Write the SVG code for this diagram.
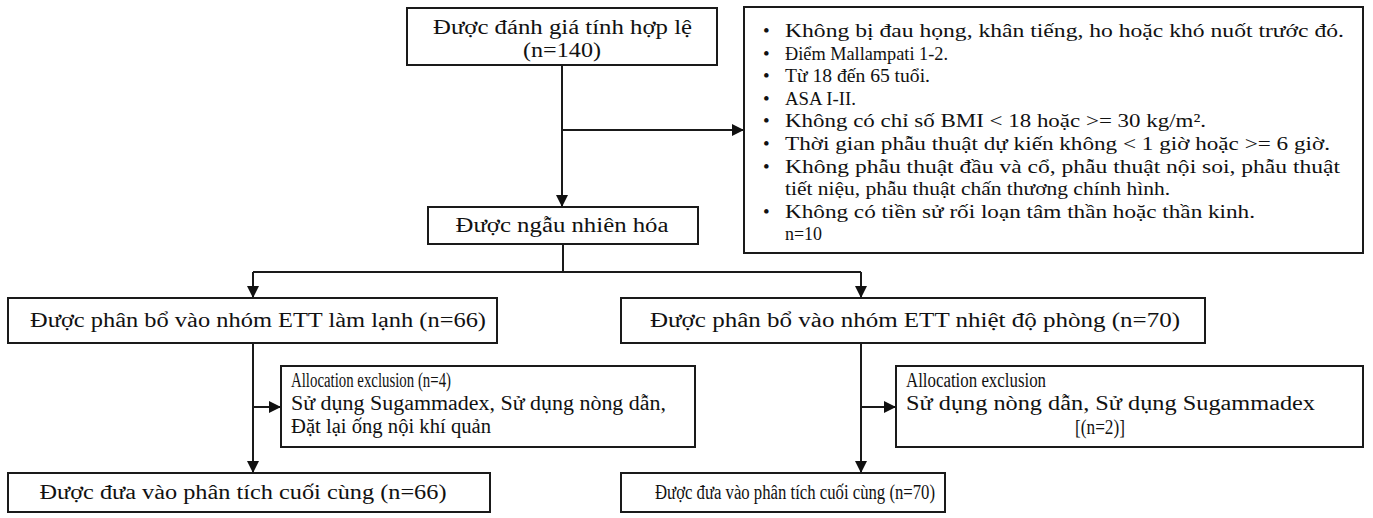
<svg xmlns="http://www.w3.org/2000/svg" width="1373" height="518" viewBox="0 0 1373 518">
<defs>
<style>
.box{fill:#fff;stroke:#1a1a1a;stroke-width:2}
.t{font-family:"Liberation Serif","Times New Roman",serif;font-size:20px;fill:#111}
.c{text-anchor:middle}
.s{font-size:19px}
.ln{fill:none;stroke:#1a1a1a;stroke-width:2}
</style>
<marker id="ah" markerUnits="userSpaceOnUse" markerWidth="14" markerHeight="12" refX="12" refY="6" orient="auto">
<path d="M0,0 L12,6 L0,12 Z" fill="#111"/>
</marker>
</defs>
<rect width="1373" height="518" fill="#fff"/>

<g id="connectors">
<path class="ln" d="M562,65 V207" marker-end="url(#ah)"/>
<path class="ln" d="M562,130 H744" marker-end="url(#ah)"/>
<path class="ln" d="M563,244 V272 M253,272 H861"/>
<path class="ln" d="M253,272 V298" marker-end="url(#ah)"/>
<path class="ln" d="M861,272 V298" marker-end="url(#ah)"/>
<path class="ln" d="M253,343 V473" marker-end="url(#ah)"/>
<path class="ln" d="M253,407 H281" marker-end="url(#ah)"/>
<path class="ln" d="M861,343 V473" marker-end="url(#ah)"/>
<path class="ln" d="M861,407 H896" marker-end="url(#ah)"/>
</g>

<g id="eligibility" class="t">
<rect class="box" x="407" y="8" width="310" height="57"/>
<text class="c" x="562.5" y="34" textLength="259" lengthAdjust="spacingAndGlyphs">Được đánh giá tính hợp lệ</text>
<text class="c" x="562" y="57" textLength="78" lengthAdjust="spacingAndGlyphs">(n=140)</text>
</g>

<g id="exclusion-criteria" class="t s">
<rect class="box" x="744" y="7" width="619" height="246"/>
<text x="763" y="37">•</text><text x="785" y="37" textLength="559" lengthAdjust="spacingAndGlyphs">Không bị đau họng, khân tiếng, ho hoặc khó nuốt trước đó.</text>
<text x="763" y="59.5">•</text><text x="785" y="59.5" textLength="163" lengthAdjust="spacingAndGlyphs">Điểm Mallampati 1-2.</text>
<text x="763" y="82">•</text><text x="785" y="82" textLength="145" lengthAdjust="spacingAndGlyphs">Từ 18 đến 65 tuổi.</text>
<text x="763" y="104.5">•</text><text x="785" y="104.5" textLength="71" lengthAdjust="spacingAndGlyphs">ASA I-II.</text>
<text x="763" y="127">•</text><text x="785" y="127" textLength="421" lengthAdjust="spacingAndGlyphs">Không có chỉ số BMI &lt; 18 hoặc &gt;= 30 kg/m².</text>
<text x="763" y="150">•</text><text x="785" y="150" textLength="545" lengthAdjust="spacingAndGlyphs">Thời gian phẫu thuật dự kiến không &lt; 1 giờ hoặc &gt;= 6 giờ.</text>
<text x="763" y="172.5">•</text><text x="785" y="172.5" textLength="555" lengthAdjust="spacingAndGlyphs">Không phẫu thuật đầu và cổ, phẫu thuật nội soi, phẫu thuật</text>
<text x="785" y="195" textLength="385" lengthAdjust="spacingAndGlyphs">tiết niệu, phẫu thuật chấn thương chính hình.</text>
<text x="763" y="217.5">•</text><text x="785" y="217.5" textLength="470" lengthAdjust="spacingAndGlyphs">Không có tiền sử rối loạn tâm thần hoặc thần kinh.</text>
<text x="785" y="240" textLength="37" lengthAdjust="spacingAndGlyphs">n=10</text>
</g>

<g id="randomized" class="t">
<rect class="box" x="428" y="207" width="270" height="37"/>
<text class="c" x="562" y="232" textLength="213" lengthAdjust="spacingAndGlyphs">Được ngẫu nhiên hóa</text>
</g>

<g id="alloc-cold" class="t">
<rect class="box" x="8" y="298" width="489" height="45"/>
<text class="c" x="258" y="327" textLength="456" lengthAdjust="spacingAndGlyphs">Được phân bổ vào nhóm ETT làm lạnh (n=66)</text>
</g>

<g id="alloc-room" class="t">
<rect class="box" x="621" y="298" width="584" height="45"/>
<text class="c" x="915" y="327" textLength="530" lengthAdjust="spacingAndGlyphs">Được phân bổ vào nhóm ETT nhiệt độ phòng (n=70)</text>
</g>

<g id="excl-cold" class="t">
<rect class="box" x="281" y="366" width="414" height="81"/>
<text x="291" y="387" textLength="160" lengthAdjust="spacingAndGlyphs">Allocation exclusion (n=4)</text>
<text x="291" y="410" textLength="375" lengthAdjust="spacingAndGlyphs">Sử dụng Sugammadex, Sử dụng nòng dẫn,</text>
<text x="291" y="433" textLength="200" lengthAdjust="spacingAndGlyphs">Đặt lại ống nội khí quản</text>
</g>

<g id="excl-room" class="t">
<rect class="box" x="896" y="366" width="467" height="81"/>
<text x="906" y="387" textLength="140" lengthAdjust="spacingAndGlyphs">Allocation exclusion</text>
<text x="906" y="410" textLength="409" lengthAdjust="spacingAndGlyphs">Sử dụng nòng dẫn, Sử dụng Sugammadex</text>
<text class="c" x="1100" y="434" textLength="50" lengthAdjust="spacingAndGlyphs">[(n=2)]</text>
</g>

<g id="final-cold" class="t">
<rect class="box" x="8" y="473" width="482" height="39"/>
<text class="c" x="243" y="499" textLength="407" lengthAdjust="spacingAndGlyphs">Được đưa vào phân tích cuối cùng (n=66)</text>
</g>

<g id="final-room" class="t">
<rect class="box" x="621" y="473" width="324" height="39"/>
<text class="c" x="795" y="499" textLength="280" lengthAdjust="spacingAndGlyphs">Được đưa vào phân tích cuối cùng (n=70)</text>
</g>
</svg>
